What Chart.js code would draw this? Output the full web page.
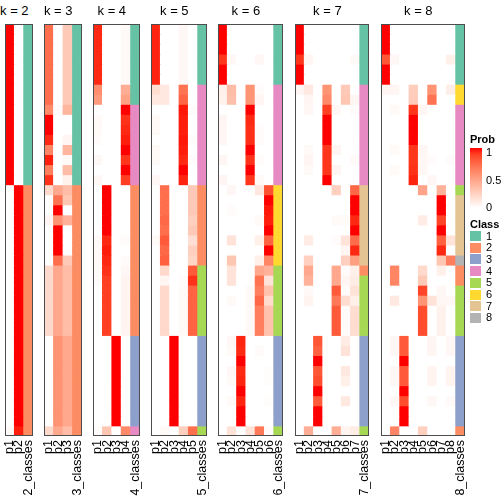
<!DOCTYPE html>
<html>
<head>
<meta charset="utf-8">
<script src="https://cdn.jsdelivr.net/npm/chart.js@4.4.1/dist/chart.umd.min.js"></script>
<style>
  body { margin: 0; width: 504px; height: 504px; position: relative; overflow: hidden; background: #fff;
         font-family: "Liberation Sans", Arial, Helvetica, sans-serif; color: #000; }
  canvas { position: absolute; top: 20px; }
  .title { position: absolute; top: 4px; font-size: 13px; line-height: 13px; white-space: nowrap; transform: translateX(-50%); }
  .lg { position: absolute; font-size: 11px; line-height: 11px; white-space: nowrap; }
  .lg.head { font-weight: bold; }
  .box { position: absolute; }
</style>
</head>
<body>
<script>
// membership probabilities, one row per sample, columns p1..pk
const probK2 = [
  [1,0],[1,0],[1,0],[1,0],[1,0],[1,0],[1,0],[1,0],
  [1,0],[1,0],[1,0],[1,0],[1,0],[1,0],[1,0],[1,0],
  [0,1],[0,1],[0,1],[0,1],[0,1],[0,1],[0,1],[0,1],
  [0,1],[0,1],[0,1],[0,1],[0,1],[0,1],[0,1],[0,1],
  [0,1],[0,1],[0,1],[0,1],[0,1],[0,1],[0,1],[0,1],
  [0.03,0.97]
];
const classK2 = [1,1,1,1,1,1,1,1,1,1,1,1,1,1,1,1,
                 2,2,2,2,2,2,2,2,2,2,2,2,2,2,2,2,2,2,2,2,2,2,2,2,2];

const probK3 = [
  [0.72,0,0.28],[0.72,0,0.28],[0.72,0,0.28],[0.72,0,0.28],
  [0.72,0,0.28],[0.72,0,0.28],[0.72,0,0.28],[0.72,0,0.28],
  [0.6,0.02,0.38],[1,0,0],[1,0,0],[0.95,0,0.05],
  [0.62,0,0.38],[0.97,0,0.03],[0.65,0,0.35],[0.93,0,0.07],
  [0.2,0.45,0.35],[0,0.7,0.3],[0,1,0],[0.05,0.55,0.4],
  [0,1,0],[0,1,0],[0,1,0],[0,0.72,0.28],
  [0.2,0.45,0.35],[0.2,0.45,0.35],[0.2,0.45,0.35],[0.2,0.45,0.35],
  [0.2,0.45,0.35],[0.2,0.45,0.35],[0.2,0.45,0.35],
  [0,0.55,0.45],[0,0.55,0.45],[0,0.55,0.45],[0,0.55,0.45],[0,0.55,0.45],
  [0,0.55,0.45],[0,0.55,0.45],[0,0.55,0.45],[0,0.55,0.45],
  [0.2,0.45,0.35]
];
const classK3 = [1,1,1,1,1,1,1,1,1,1,1,1,1,1,1,1,
                 2,2,2,2,2,2,2,2,2,2,2,2,2,2,2,2,2,2,2,2,2,2,2,2,2];

const probK4 = [
  [0.95,0,0,0.03],[0.95,0,0,0.03],[0.95,0,0,0.03],
  [0.95,0,0,0.03],[0.95,0,0,0.03],[0.95,0,0,0.03],
  [0.58,0,0,0.42],[0.52,0,0,0.48],
  [0,0,0,1],[0.03,0,0,0.93],[0.03,0,0,0.95],[0.02,0,0,0.97],
  [0,0,0,1],[0.04,0,0,0.92],[0,0,0,1],[0.04,0,0,0.9],
  [0,1,0,0],[0,1,0,0],[0,1,0,0],[0,1,0,0],[0,1,0,0],
  [0.03,0.95,0,0.02],[0.03,0.97,0,0],[0.03,0.95,0,0.02],[0.03,0.93,0,0.04],
  [0.02,0.9,0,0.06],[0,0.9,0,0.06],[0,0.9,0,0.06],
  [0,0.9,0,0.06],[0,0.9,0,0.06],[0,0.9,0,0.06],
  [0,0,1,0],[0,0,1,0],[0,0,1,0],[0,0,1,0],[0,0,1,0],
  [0,0,1,0],[0,0,1,0],[0,0,1,0],[0,0,1,0],
  [0.02,0.3,0,0.6]
];
const classK4 = [1,1,1,1,1,1,1,1, 4,4,4,4,4,4,4,4,
                 2,2,2,2,2,2,2,2,2,2,2,2,2,2,2, 3,3,3,3,3,3,3,3,3, 4];

const probK5 = [
  [0.96,0,0,0.04,0],[0.96,0,0,0.04,0],[0.96,0,0,0.04,0],
  [0.96,0,0,0.04,0],[0.96,0,0,0.04,0],[0.96,0,0,0.04,0],
  [0.18,0.12,0,0.7,0],[0.12,0.12,0,0.76,0],
  [0,0,0,0.98,0.02],[0.03,0,0,0.97,0],[0.03,0,0,0.97,0],[0,0,0,0.98,0.02],
  [0.03,0,0,0.97,0],[0.03,0,0,0.95,0.02],[0,0,0,1,0],[0.04,0,0,0.96,0],
  [0,0.72,0,0,0.28],[0,0.72,0,0,0.28],[0,0.72,0,0,0.28],[0,0.75,0,0,0.25],
  [0,0.72,0,0,0.28],[0.03,0.8,0,0,0.17],[0,0.75,0,0,0.25],[0,0.78,0,0,0.22],
  [0,0.2,0,0,0.8],[0,0.05,0,0.02,0.93],
  [0,0.2,0,0.03,0.77],[0,0.2,0,0.03,0.77],[0,0.2,0,0.03,0.77],
  [0,0.2,0,0.03,0.77],[0,0.2,0,0.03,0.77],
  [0,0,1,0,0],[0,0,1,0,0],[0,0,1,0,0],[0,0,1,0,0],[0,0,1,0,0],
  [0,0,1,0,0],[0,0,1,0,0],[0,0,1,0,0],[0,0,1,0,0],
  [0,0.03,0,0.25,0.72]
];
const classK5 = [1,1,1,1,1,1, 4,4,4,4,4,4,4,4,4,4, 2,2,2,2,2,2,2,2,
                 5,5,5,5,5,5,5, 3,3,3,3,3,3,3,3,3, 5];

const probK6 = [
  [1,0,0,0,0,0],[1,0,0,0,0,0],[1,0,0,0,0,0],
  [0.92,0.04,0,0,0.04,0],[1,0,0,0,0,0],[1,0,0,0,0,0],
  [0.08,0.35,0,0.55,0.02,0],[0.07,0.33,0,0.55,0.05,0],
  [0,0,0,1,0,0],[0.05,0,0,0.95,0,0],[0.04,0,0,0.94,0.02,0],[0.04,0,0,0.94,0.02,0],
  [0,0,0,1,0,0],[0.05,0,0,0.93,0.02,0],[0,0,0,1,0,0],[0.05,0,0,0.92,0.03,0],
  [0,0.04,0,0,0.12,0.84],[0,0,0,0,0,1],[0,0.02,0,0,0,0.98],[0,0,0,0,0.03,0.97],
  [0,0,0,0,0,1],[0,0.15,0,0,0.08,0.77],[0,0,0,0,0,1],[0,0.3,0,0,0.08,0.62],
  [0,0.15,0,0,0.45,0.4],[0,0.15,0,0,0.7,0.15],[0,0,0,0.03,0.65,0.32],
  [0,0.03,0,0.03,0.75,0.19],[0,0,0,0.03,0.65,0.32],[0,0,0,0.03,0.65,0.32],
  [0,0,0,0.03,0.65,0.32],
  [0,0.04,0.96,0,0,0],[0,0.03,0.95,0,0.02,0],[0,0,1,0,0,0],
  [0,0.04,0.95,0,0,0.01],[0,0.03,0.96,0,0,0.01],[0,0,1,0,0,0],
  [0,0.03,0.96,0,0,0.01],[0,0,1,0,0,0],[0,0,1,0,0,0],
  [0,0.15,0,0.15,0.68,0.02]
];
const classK6 = [1,1,1,1,1,1, 4,4,4,4,4,4,4,4,4,4, 6,6,6,6,6,6,6,6,
                 5,5,5,5,5,5,5, 3,3,3,3,3,3,3,3,3, 5];

const probK7 = [
  [1,0,0,0,0,0,0],[1,0,0,0,0,0,0],[1,0,0,0,0,0,0],
  [0.92,0.05,0,0,0,0,0.03],[1,0,0,0,0,0,0],[1,0,0,0,0,0,0],
  [0.05,0.12,0,0.55,0,0.28,0],[0,0.05,0,0.6,0,0.3,0.05],
  [0,0.04,0,0.9,0.04,0,0.02],[0,0,0,1,0,0,0],[0,0,0,1,0,0,0],[0,0,0,1,0,0,0],
  [0,0.03,0,0.92,0.05,0,0],[0,0.05,0,0.92,0,0,0.03],[0,0.03,0,0.92,0.05,0,0],[0,0,0,1,0,0,0],
  [0,0,0,0,0.25,0,0.75],[0,0,0,0,0,0,1],[0,0,0,0,0,0,1],[0,0,0,0,0.03,0.02,0.95],
  [0,0,0,0,0,0,1],[0,0.1,0,0,0.02,0.15,0.73],[0,0,0,0,0,0.05,0.95],[0,0.25,0,0,0,0.25,0.5],
  [0,0.45,0,0,0.45,0.02,0.08],
  [0,0.4,0,0,0.45,0.05,0.1],[0,0.03,0,0,0.8,0.02,0.15],[0,0.06,0,0,0.68,0.18,0.08],
  [0,0,0,0,0.8,0.02,0.18],[0,0,0,0,0.8,0.02,0.18],[0,0,0,0,0.8,0.02,0.18],
  [0,0,0.82,0,0,0.1,0],[0,0,0.78,0,0,0.15,0],[0,0,1,0,0,0,0],
  [0,0,0.82,0,0,0.12,0],[0,0,0.85,0,0,0.08,0],[0,0,1,0,0,0,0],
  [0,0,0.8,0,0,0.12,0],[0,0,1,0,0,0,0],[0,0,1,0,0,0,0],
  [0,0.42,0,0,0.42,0.06,0.1]
];
const classK7 = [1,1,1,1,1,1, 4,4,4,4,4,4,4,4,4,4, 7,7,7,7,7,7,7,7, 2,
                 5,5,5,5,5,5, 3,3,3,3,3,3,3,3,3, 5];

const probK8 = [
  [1,0,0,0,0,0,0,0],[1,0,0,0,0,0,0,0],[1,0,0,0,0,0,0,0],
  [0.82,0.04,0,0,0,0,0,0.08],[1,0,0,0,0,0,0,0],[1,0,0,0,0,0,0,0],
  [0.05,0.05,0,0.26,0,0.55,0,0.09],[0,0,0,0.27,0,0.7,0,0],
  [0,0.03,0,0.92,0.05,0,0,0],[0,0,0,1,0,0,0,0],[0,0,0,1,0,0,0,0],[0,0,0,1,0,0,0,0],
  [0,0.03,0,0.92,0.05,0,0,0],[0,0,0,0.92,0.04,0.02,0,0.02],[0,0.03,0,0.93,0.04,0,0,0],[0,0,0,0.96,0,0.04,0,0],
  [0,0,0,0,0.47,0,0.4,0],
  [0,0,0,0,0,0,1,0],[0,0,0,0,0,0,1,0],[0,0,0,0,0.1,0,0.88,0],
  [0,0,0,0,0,0,1,0],[0,0,0,0,0,0,0.78,0.15],[0,0,0,0,0,0,0.95,0],
  [0,0,0,0,0,0,0.3,0.65],
  [0,0.62,0,0,0.2,0,0.08,0],[0,0.62,0,0,0.28,0,0,0],
  [0,0,0,0,0.88,0,0.04,0],[0,0.12,0,0,0.55,0.15,0.04,0.04],
  [0,0,0,0,0.85,0,0.07,0],[0,0,0,0,0.85,0,0.07,0],[0,0,0,0,0.85,0,0.07,0],
  [0,0.04,0.8,0,0,0.05,0,0.04],[0,0.04,0.8,0,0,0.05,0,0.04],[0,0,1,0,0,0,0,0],
  [0,0.04,0.8,0,0,0.06,0,0.06],[0,0.04,0.8,0,0,0.06,0,0.06],[0,0,1,0,0,0,0,0],
  [0,0.04,0.85,0,0,0.04,0,0.03],[0,0,1,0,0,0,0,0],[0,0,1,0,0,0,0,0],
  [0,0.62,0,0,0.25,0,0,0]
];
const classK8 = [1,1,1,1,1,1, 6,6, 4,4,4,4,4,4,4,4, 5, 7,7,7,7,7,7, 8, 2,2,
                 5,5,5,5,5, 3,3,3,3,3,3,3,3,3, 2];

const panels = [
  { k: 2, probs: probK2, classes: classK2 },
  { k: 3, probs: probK3, classes: classK3 },
  { k: 4, probs: probK4, classes: classK4 },
  { k: 5, probs: probK5, classes: classK5 },
  { k: 6, probs: probK6, classes: classK6 },
  { k: 7, probs: probK7, classes: classK7 },
  { k: 8, probs: probK8, classes: classK8 }
];
const classNames = ['1','2','3','4','5','6','7','8'];
const probTicks = ['1','0.5','0'];

// layout (pixels)
const panelLeft  = [5, 44, 93, 151, 218, 295, 381];
const panelWidth = [28, 38, 47, 56, 65, 74, 84];
const classColors = ['#66C2A5','#FC8D62','#8DA0CB','#E78AC3','#A6D854','#FFD92F','#E5C494','#B3B3B3'];
const FONT = '"Liberation Sans", Arial, Helvetica, sans-serif';

// white -> red ramp, interpolated in LAB like colorRamp2
function toLin(c) { c /= 255; return c <= 0.04045 ? c / 12.92 : Math.pow((c + 0.055) / 1.055, 2.4); }
function fromLin(c) {
  c = c <= 0.0031308 ? 12.92 * c : 1.055 * Math.pow(c, 1 / 2.4) - 0.055;
  return Math.round(Math.min(1, Math.max(0, c)) * 255);
}
const Xn = 0.95047, Zn = 1.08883;
function fLab(t) { return t > 216 / 24389 ? Math.cbrt(t) : (24389 / 27 * t + 16) / 116; }
function fInv(t) { const t3 = t * t * t; return t3 > 216 / 24389 ? t3 : (116 * t - 16) / (24389 / 27); }
function rgbToLab(rgb) {
  const r = toLin(rgb[0]), g = toLin(rgb[1]), b = toLin(rgb[2]);
  const x = (0.4124 * r + 0.3576 * g + 0.1805 * b) / Xn;
  const y = 0.2126 * r + 0.7152 * g + 0.0722 * b;
  const z = (0.0193 * r + 0.1192 * g + 0.9505 * b) / Zn;
  return [116 * fLab(y) - 16, 500 * (fLab(x) - fLab(y)), 200 * (fLab(y) - fLab(z))];
}
function labToRgb(lab) {
  const fy = (lab[0] + 16) / 116, fx = fy + lab[1] / 500, fz = fy - lab[2] / 200;
  const x = fInv(fx) * Xn, y = fInv(fy), z = fInv(fz) * Zn;
  return [fromLin( 3.2406 * x - 1.5372 * y - 0.4986 * z),
          fromLin(-0.9689 * x + 1.8758 * y + 0.0415 * z),
          fromLin( 0.0557 * x - 0.2040 * y + 1.0570 * z)];
}
const labWhite = rgbToLab([255,255,255]), labRed = rgbToLab([255,0,0]);
function probColor(v) {
  const lab = labWhite.map((w, i) => w + (labRed[i] - w) * v);
  const c = labToRgb(lab);
  return 'rgb(' + c.join(',') + ')';
}

const framePlugin = {
  id: 'frame',
  afterDatasetsDraw(chart) {
    const a = chart.chartArea, ctx = chart.ctx;
    ctx.save();
    ctx.strokeStyle = '#4d4d4d';
    ctx.lineWidth = 1;
    ctx.strokeRect(a.left + 0.5, a.top + 0.5, a.right - a.left - 1, a.bottom - a.top - 1);
    ctx.restore();
  }
};

function addDiv(cls, text, left, top) {
  const d = document.createElement('div');
  d.className = cls;
  d.textContent = text;
  d.style.left = left + 'px';
  d.style.top = top + 'px';
  document.body.appendChild(d);
  return d;
}

panels.forEach((p, n) => {
  const left = panelLeft[n], width = panelWidth[n];
  const canvas = document.createElement('canvas');
  canvas.width = width + 12;
  canvas.height = 484;
  canvas.style.left = (left - 6) + 'px';
  document.body.appendChild(canvas);

  const labels = [];
  for (let j = 1; j <= p.k; j++) labels.push('p' + j);
  labels.push(p.k + '_classes');

  const datasets = p.probs.map((row, i) => ({
    data: labels.map(() => [i, i + 1]),
    backgroundColor: row.map(probColor).concat(classColors[p.classes[i] - 1]),
    borderWidth: 0,
    grouped: false,
    barPercentage: 1,
    categoryPercentage: 1,
    inflateAmount: 0.4
  }));

  new Chart(canvas, {
    type: 'bar',
    data: { labels, datasets },
    options: {
      responsive: false,
      animation: false,
      events: [],
      layout: { padding: { left: 6, right: 6, top: 4, bottom: 0 } },
      plugins: { legend: { display: false }, tooltip: { enabled: false } },
      scales: {
        x: {
          grid: { display: false, drawTicks: false },
          border: { display: false },
          ticks: { minRotation: 90, maxRotation: 90, autoSkip: false, padding: 4,
                   color: '#000', font: { family: FONT, size: 12.5 } },
          afterFit(scale) { scale.height = 68; scale.paddingLeft = 0; scale.paddingRight = 0; }
        },
        y: { display: false, min: 0, max: p.probs.length, reverse: true }
      }
    },
    plugins: [framePlugin]
  });

  // title centred over the probability columns
  addDiv('title', 'k = ' + p.k, left + width * p.k / (p.k + 1) / 2, 4);
});

// legends
addDiv('lg head', 'Prob', 470, 134);
const grad = document.createElement('div');
grad.className = 'box';
const stops = [];
for (let s = 0; s <= 10; s++) stops.push(probColor(s / 10) + ' ' + (s * 10) + '%');
grad.style.cssText = 'left:470px;top:148px;width:12px;height:60px;background:linear-gradient(to top,' + stops.join(',') + ')';
document.body.appendChild(grad);
[152, 180, 207].forEach((y, i) => addDiv('lg', probTicks[i], 486, y - 5.5));

addDiv('lg head', 'Class', 470, 218.5);
classNames.forEach((name, i) => {
  const top = 231 + i * 11.7;
  const b = document.createElement('div');
  b.className = 'box';
  b.style.cssText = 'left:470px;top:' + top + 'px;width:11px;height:10px;background:' + classColors[i];
  document.body.appendChild(b);
  addDiv('lg', name, 486, top - 0.5);
});
</script>
</body>
</html>
